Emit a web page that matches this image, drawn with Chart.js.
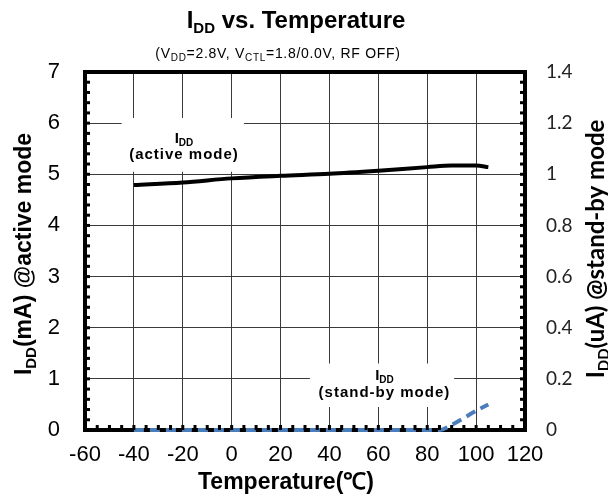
<!DOCTYPE html>
<html>
<head>
<meta charset="utf-8">
<script src="https://cdn.jsdelivr.net/npm/chart.js@4"></script>
<style>
body{margin:0;background:#fff;}
canvas{display:block;}
</style>
</head>
<body>
<canvas id="canvas" width="608" height="495"></canvas>
<script>
// data
const temps=[-40,-20,0,20,40,60,80,90,100,105];
const activeMa=[4.79,4.84,4.92,4.97,5.01,5.07,5.14,5.17,5.17,5.14];
const standbyTemps=[-40,-20,0,20,40,60,80,85,90,100,105];
const standbyUa=[0,0,0,0,0,0,0,0,0.02,0.075,0.1];
const xTicks=[-60,-40,-20,0,20,40,60,80,100,120];
const yTicks=[0,1,2,3,4,5,6,7];
const y2Ticks=[0,0.2,0.4,0.6,0.8,1,1.2,1.4];

const ARIAL="'Liberation Sans', Arial, sans-serif";
const CAL="Lato, 'Open Sans', sans-serif";

function rich(ctx,parts,x,y,rot,spacing){
    ctx.save();
    ctx.translate(x,y);
    if(rot) ctx.rotate(rot);
    ctx.textBaseline="alphabetic";
    ctx.textAlign="left";
    ctx.letterSpacing=(spacing||0)+"px";
    let w=0;
    parts.forEach(p=>{ctx.font=p[1];w+=ctx.measureText(p[0]).width;});
    let cx=-w/2;
    parts.forEach(p=>{
        ctx.font=p[1];
        ctx.fillText(p[0],cx,p[2]||0);
        cx+=ctx.measureText(p[0]).width;
    });
    ctx.restore();
}

const decor={
    id:"decor",
    beforeDatasetsDraw(chart){
        const {ctx,chartArea:a,scales}=chart;
        ctx.save();
        ctx.strokeStyle="#000";
        ctx.lineWidth=4;
        ctx.strokeRect(a.left,a.top,a.right-a.left,a.bottom-a.top);
        const x=scales.x,y=scales.y;
        ctx.fillStyle="#fff";
        ctx.fillRect(x.getPixelForValue(-45),y.getPixelForValue(6.1),x.getPixelForValue(5)-x.getPixelForValue(-45),y.getPixelForValue(5.05)-y.getPixelForValue(6.1));
        ctx.fillRect(x.getPixelForValue(32),y.getPixelForValue(1.3),x.getPixelForValue(91)-x.getPixelForValue(32),y.getPixelForValue(0.45)-y.getPixelForValue(1.3));
        ctx.fillStyle="#000";
        const ax=x.getPixelForValue(-19.5);
        rich(ctx,[["I","bold 15px "+ARIAL],["DD","bold 10px "+ARIAL,3]],ax,y.getPixelForValue(5.62));
        rich(ctx,[["(active mode)","bold 15px "+ARIAL]],ax,y.getPixelForValue(5.3),0,1);
        const sx=x.getPixelForValue(62.5);
        rich(ctx,[["I","bold 15px "+ARIAL],["DD","bold 10px "+ARIAL,3]],sx,y.getPixelForValue(0.97));
        rich(ctx,[["(stand-by mode)","bold 15px "+ARIAL]],sx,y.getPixelForValue(0.65),0,1);
        ctx.restore();
    },
    afterDatasetsDraw(chart){
        const {ctx,chartArea:a,scales}=chart;
        ctx.save();
        ctx.fillStyle="#000";
        for(let v=0.2;v<7;v+=0.2){
            const py=scales.y.getPixelForValue(v);
            ctx.fillRect(a.left,py-1.5,5,3);
            ctx.fillRect(a.right-5,py-1.5,5,3);
        }
        for(let t=-55;t<120;t+=5){
            const px=scales.x.getPixelForValue(t);
            ctx.fillRect(px-1.5,a.bottom-5,3,5);
        }
        rich(ctx,[["I","bold 24px "+ARIAL],["DD","bold 15px "+ARIAL,5],[" vs. Temperature","bold 24px "+ARIAL]],296,28);
        rich(ctx,[["(V","14px "+ARIAL],["DD","10px "+ARIAL,3],["=2.8V, V","14px "+ARIAL],["CTL","10px "+ARIAL,3],["=1.8/0.0V, RF OFF)","14px "+ARIAL]],278,58,0,0.7);
        rich(ctx,[["Temperature(\u2103)","bold 23px "+ARIAL]],286,489);
        rich(ctx,[["I","bold 23px "+ARIAL],["DD","bold 15px "+ARIAL,5],["(mA) @active mode","bold 23px "+ARIAL]],31,254,-Math.PI/2);
        rich(ctx,[["I","bold 24px "+CAL],["DD","bold 15px "+CAL,5],["(uA) @stand-by mode","bold 24px "+CAL]],604,249,-Math.PI/2);
        ctx.restore();
    }
};

new Chart(document.getElementById("canvas"),{
    type:"line",
    data:{
        datasets:[{
            label:"active",
            data:temps.map((t,i)=>({x:t,y:activeMa[i]})),
            yAxisID:"y",
            borderColor:"#000",
            borderWidth:4,
            pointRadius:0,
            cubicInterpolationMode:"monotone",
            clip:false
        },{
            label:"standby",
            data:standbyTemps.map((t,i)=>({x:t,y:standbyUa[i]})),
            yAxisID:"y2",
            borderColor:"#4a7ebb",
            borderWidth:4,
            borderDash:[10,6],
            pointRadius:0,
            cubicInterpolationMode:"monotone",
            clip:false
        }]
    },
    options:{
        responsive:false,
        animation:false,
        layout:{padding:{top:72,left:0,right:0,bottom:0}},
        plugins:{legend:{display:false},tooltip:{enabled:false}},
        scales:{
            x:{
                type:"linear",min:-60,max:120,
                afterBuildTicks:s=>{s.ticks=xTicks.map(v=>({value:v}));},
                afterFit:s=>{s.height=65;},
                grid:{color:"#3a3a3a",lineWidth:1,drawTicks:false},
                border:{display:false},
                ticks:{color:"#000",font:{family:ARIAL,size:22},padding:12,maxRotation:0}
            },
            y:{
                position:"left",min:0,max:7,
                afterBuildTicks:s=>{s.ticks=yTicks.map(v=>({value:v}));},
                afterFit:s=>{s.width=85;},
                grid:{color:"#3a3a3a",lineWidth:1,drawTicks:false},
                border:{display:false},
                ticks:{color:"#000",font:{family:ARIAL,size:22},padding:25}
            },
            y2:{
                position:"right",min:0,max:1.4,
                afterBuildTicks:s=>{s.ticks=y2Ticks.map(v=>({value:v}));},
                afterFit:s=>{s.width=83;},
                grid:{display:false,drawTicks:false},
                border:{display:false},
                ticks:{color:"#222",font:{family:CAL,size:19},padding:21,callback:v=>String(+v.toFixed(1))}
            }
        }
    },
    plugins:[decor]
});
</script>
</body>
</html>
